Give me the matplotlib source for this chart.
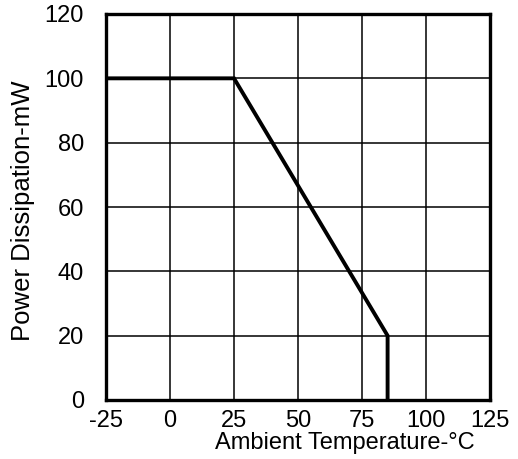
import matplotlib
matplotlib.use("Agg")
from matplotlib import pyplot as plt

# derating curve
temp = [-25, 25, 85, 85]
power = [100, 100, 20, 0]

x_ticks = [-25, 0, 25, 50, 75, 100, 125]
y_ticks = [0, 20, 40, 60, 80, 100, 120]

plt.rcParams['font.family'] = ['Liberation Sans', 'DejaVu Sans']
plt.rcParams['axes.unicode_minus'] = False

fig = plt.figure(figsize=(5.18, 4.59), dpi=100)
ax = fig.add_axes([106 / 518, 59 / 459, 384 / 518, 386 / 459])

ax.plot(temp, power, color='black', linewidth=2.8, solid_joinstyle='miter', zorder=3)

ax.set_xlim(-25, 125)
ax.set_ylim(0, 120)
ax.set_xticks(x_ticks)
ax.set_yticks(y_ticks)
ax.grid(True, color='black', linewidth=1.1)

for s in ax.spines.values():
    s.set_linewidth(2.4)
    s.set_zorder(4)

ax.tick_params(axis='both', length=0, labelsize=17)
ax.tick_params(axis='x', pad=7)
ax.tick_params(axis='y', pad=16)

ax.set_xlabel('Ambient Temperature-°C', fontsize=17)
ax.set_ylabel('Power Dissipation-mW', fontsize=18.5)
ax.xaxis.set_label_coords(0.622, -0.082)
ax.yaxis.set_label_coords(-0.185, 0.49)

plt.savefig('out.png', dpi=100)
